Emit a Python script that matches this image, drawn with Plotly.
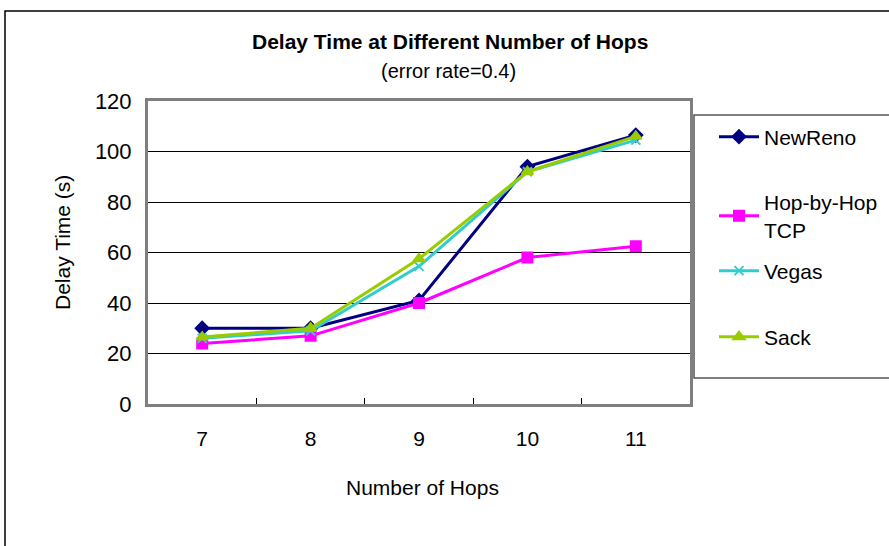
import plotly.graph_objects as go

hops = ["7", "8", "9", "10", "11"]
newreno = [30, 30, 41, 94, 106.5]
hop_by_hop = [24, 27, 40, 58, 62.5]
vegas = [26, 29, 54.5, 92, 104.5]
sack = [26.5, 30, 57.5, 92, 106]

W, H = 889, 546
L, R, T, B = 148, 690, 101, 404  # plot area in page pixels

def px(x):
    return (x - L) / (R - L)

def py(y):
    return (B - y) / (B - T)

FONT = "Liberation Sans, Arial, sans-serif"

fig = go.Figure()
series = [
    ("NewReno", newreno, "#000080", "diamond", 10, 137),
    ("Hop-by-Hop<br>TCP", hop_by_hop, "#FF00FF", "square", 10, 216),
    ("Vegas", vegas, "#33CCCC", "x-thin", 9, 271),
    ("Sack", sack, "#99CC00", "triangle-up", 10, 337),
]
legends = {}
for i, (name, vals, color, sym, size, ly) in enumerate(series):
    key = "legend" if i == 0 else f"legend{i + 1}"
    fig.add_trace(go.Scatter(
        x=hops, y=vals, name=name, mode="lines+markers",
        line=dict(color=color, width=3),
        marker=dict(symbol=sym, size=size, color=color,
                    line=dict(color=color, width=2)),
        legend=key,
    ))
    legends[key] = dict(
        x=px(714), y=py(ly), xanchor="left", yanchor="middle",
        bgcolor="rgba(0,0,0,0)", borderwidth=0,
        font=dict(family=FONT, size=21, color="black"),
        itemwidth=40,
    )

fig.update_layout(
    width=W, height=H,
    margin=dict(l=L, r=W - R, t=T, b=H - B, autoexpand=False),
    paper_bgcolor="white", plot_bgcolor="white",
    font=dict(family=FONT, color="black", size=21),
    showlegend=True,
    annotations=[
        dict(text="<b>Delay Time at Different Number of Hops</b>", x=px(450), y=py(42),
             xanchor="center", yanchor="middle",
             xref="paper", yref="paper", showarrow=False, font=dict(size=21, family=FONT)),
        dict(text="(error rate=0.4)", x=px(448), y=py(71),
             xanchor="center", yanchor="middle",
             xref="paper", yref="paper", showarrow=False, font=dict(size=20, family=FONT)),
        dict(text="Number of Hops", x=px(422), y=py(487),
             xanchor="center", yanchor="middle",
             xref="paper", yref="paper", showarrow=False, font=dict(size=21, family=FONT)),
        dict(text="Delay Time (s)", x=px(62), y=py(243), textangle=-90,
             xanchor="center", yanchor="middle",
             xref="paper", yref="paper", showarrow=False, font=dict(size=21, family=FONT)),
    ],
    shapes=[
        dict(type="rect", xref="paper", yref="paper",
             x0=px(5), x1=px(910), y0=py(11), y1=py(570),
             line=dict(color="black", width=1.5), layer="below"),
        dict(type="rect", xref="paper", yref="paper",
             x0=px(694), x1=px(910), y0=py(115), y1=py(378),
             line=dict(color="#555555", width=1.5), fillcolor="white", layer="below"),
    ],
    **legends,
)

fig.update_xaxes(
    type="category", range=[-0.5, 4.5],
    showline=True, linecolor="#7f7f7f", linewidth=3, mirror=True,
    ticks="inside", tickson="boundaries", ticklen=6, tickcolor="black",
    showgrid=False,
    tickfont=dict(size=21, family=FONT),
    ticklabelstandoff=14,
)
fig.update_yaxes(
    range=[0, 120], dtick=20,
    showline=True, linecolor="#7f7f7f", linewidth=3, mirror=True,
    showgrid=True, gridcolor="black", gridwidth=1,
    ticks="", zeroline=False,
    tickfont=dict(size=22, family=FONT),
    ticklabelstandoff=9,
)

fig.write_html("out.html", config={"displayModeBar": False},
               post_script="document.body.style.margin='0';")
